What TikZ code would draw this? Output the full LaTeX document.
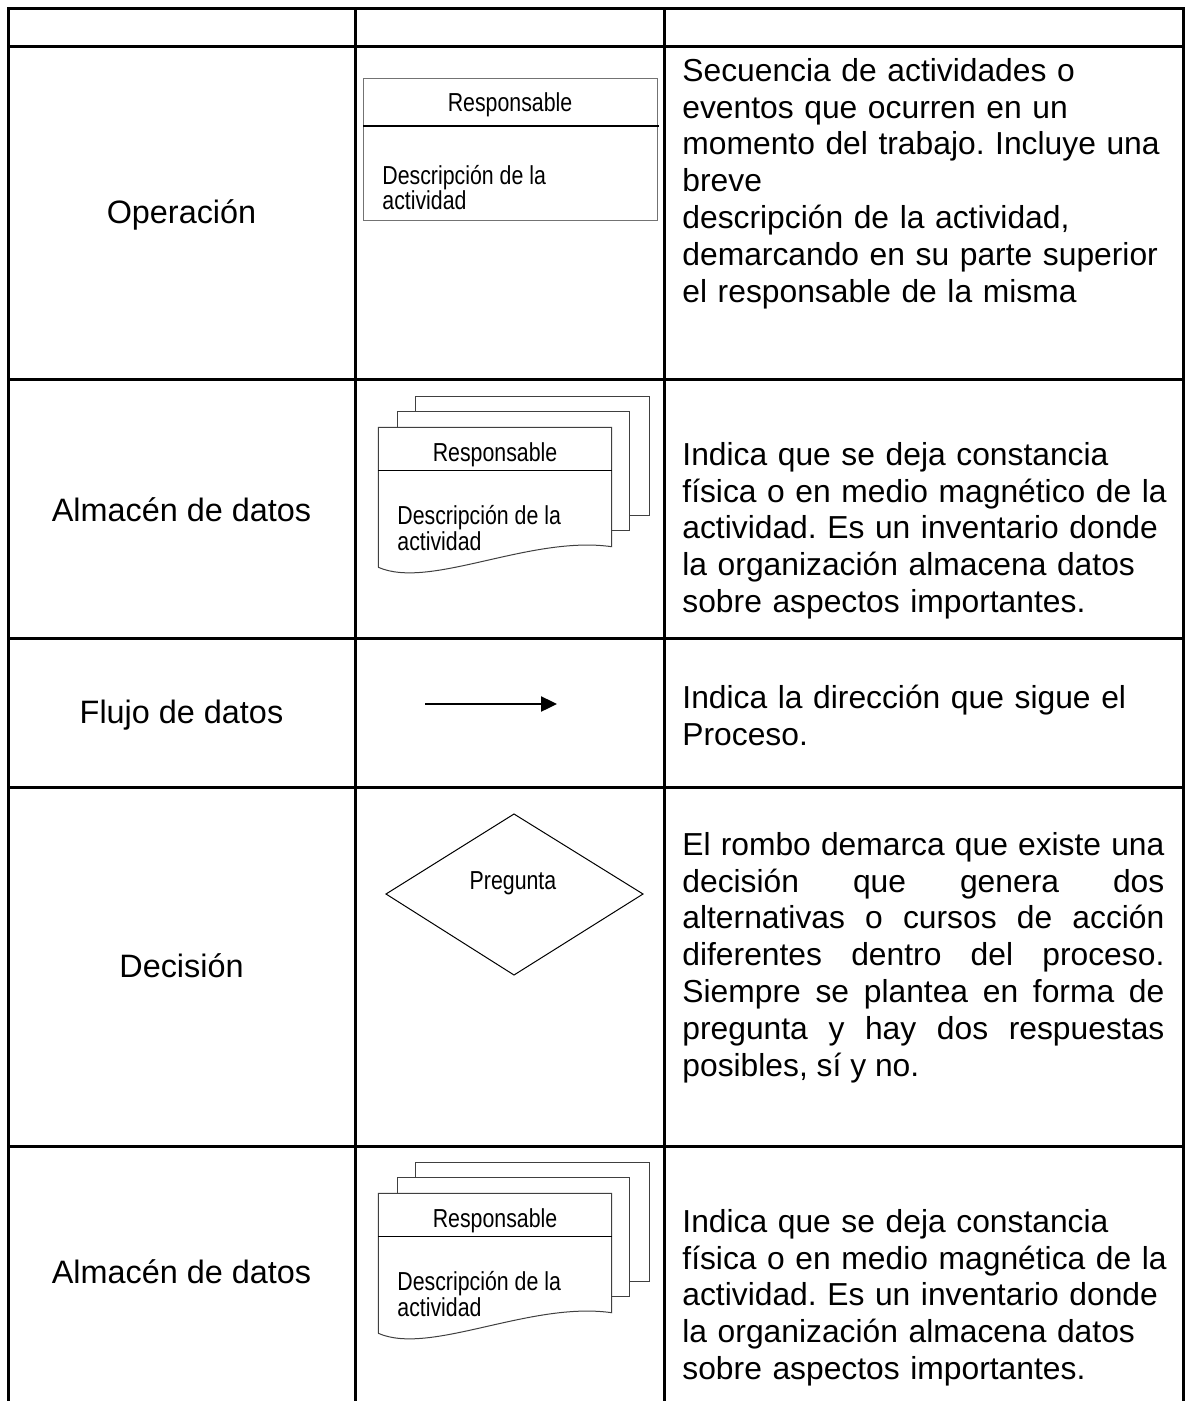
\documentclass[tikz,border=0pt]{standalone}
\usepackage{fontspec}
\setmainfont{Liberation Sans}
\newfontfamily\narrowfont[FakeStretch=0.82]{Liberation Sans}
\usetikzlibrary{arrows.meta}
\newcommand\mainsz{\fontsize{16.2pt}{18.4pt}\selectfont}
\newcommand\descsz{\fontsize{15.9pt}{18.4pt}\selectfont}
\newcommand\narsz{\narrowfont\fontsize{13pt}{13pt}\selectfont}
\begin{document}
\frenchspacing
\begin{tikzpicture}[x=0.5pt,y=-0.5pt,
  grid/.style={line width=1.5pt,line cap=rect},
  lab/.style={font=\mainsz,anchor=base,inner sep=0pt},
  desc/.style={font=\descsz,anchor=north west,inner sep=0pt,text width=250pt,align=left},
  descj/.style={font=\descsz,anchor=north west,inner sep=0pt,text width=241pt,align=justify},
  small/.style={font=\narsz,inner sep=0pt},
  sheet/.style={draw=black!75,line width=0.5pt},
  divider/.style={draw=black,line width=0.75pt}]
\useasboundingbox (0,0) rectangle (1186,1401);
\fill[white] (0,0) rectangle (1186,1401);

% table grid
\foreach \x in {8,355,664,1183} \draw[grid] (\x,9) -- (\x,1410);
\foreach \y in {9,47,379,638,787,1146} \draw[grid] (8,\y) -- (1183,\y);

% left column labels
\node[lab] (l1) at (181.5,224) {Operación};
\node[lab] (l2) at (181.5,521) {Almacén de datos};
\node[lab] (l3) at (181.5,723) {Flujo de datos};
\node[lab] (l4) at (181.5,977) {Decisión};
\node[lab] (l5) at (181.5,1283) {Almacén de datos};

% descriptions
\node[desc] (d1) at (682,55.2) {\strut Secuencia de actividades o\\
eventos que ocurren en un\\
momento del trabajo. Incluye una\\
breve\\
descripción de la actividad,\\
demarcando en su parte superior\\
el responsable de la misma};
\node[desc] (d2) at (682,439.2) {\strut Indica que se deja constancia\\
física o en medio magnético de la\\
actividad. Es un inventario donde\\
la organización almacena datos\\
sobre aspectos importantes.};
\node[desc] (d3) at (682,682.2) {\strut Indica la dirección que sigue el\\
Proceso.};
\node[descj] (d4) at (682,829.2) {\strut El rombo demarca que existe una\linebreak
decisión que genera dos\linebreak
alternativas o cursos de acción\linebreak
diferentes dentro del proceso.\linebreak
Siempre se plantea en forma de\linebreak
pregunta y hay dos respuestas\linebreak
posibles, sí y no.};
\node[desc] (d5) at (682,1206.2) {\strut Indica que se deja constancia\\
física o en medio magnética de la\\
actividad. Es un inventario donde\\
la organización almacena datos\\
sobre aspectos importantes.};

% operation box
\draw[draw=black!55,line width=0.5pt] (363,79) rectangle (657,221);
\draw[divider] (363,126) -- (659,126);
\node[small,anchor=base] (r1) at (510,112) {Responsable};
\node[small,anchor=base west] (s1) at (382,185) {Descripción de la};
\node[small,anchor=base west] (s1b) at (382,210) {actividad};

% data store shapes
\foreach \dy/\nm in {0/a,766/b}{
\begin{scope}[shift={(0,\dy)}]
  \draw[sheet] (629.3,515) -- (649.3,515) -- (649.3,396.7) -- (415.3,396.7) -- (415.3,411.7);
  \draw[sheet] (611.7,530) -- (629.3,530) -- (629.3,411.7) -- (397.3,411.7) -- (397.3,427.3);
  \draw[sheet] (378.3,567.3) -- (378.3,427.3) -- (611.7,427.3) -- (611.7,546.7)
     .. controls (530,535) and (430,590) .. (378.3,567.3);
  \draw[divider] (378.3,470.7) -- (611.7,470.7);
  \node[small,anchor=base] (r\nm) at (495,461) {Responsable};
  \node[small,anchor=base west] (s\nm) at (397,524) {Descripción de la};
  \node[small,anchor=base west] (t\nm) at (397,550) {actividad};
\end{scope}}

% flow arrow
\coordinate (fa) at (425,704);
\coordinate (fb) at (557,704);
\draw[line width=1.2pt,-{Triangle[length=8pt,width=7.5pt]}] (fa) -- (fb);

% decision diamond
\coordinate (dt) at (514,814);
\coordinate (dr) at (643,894);
\coordinate (db) at (514,975);
\coordinate (dl) at (386,894);
\draw[line width=0.5pt] (dl) -- (dt) -- (dr) -- (db) -- cycle;
\node[small,anchor=base] (q) at (513,889) {Pregunta};
\end{tikzpicture}
\end{document}
